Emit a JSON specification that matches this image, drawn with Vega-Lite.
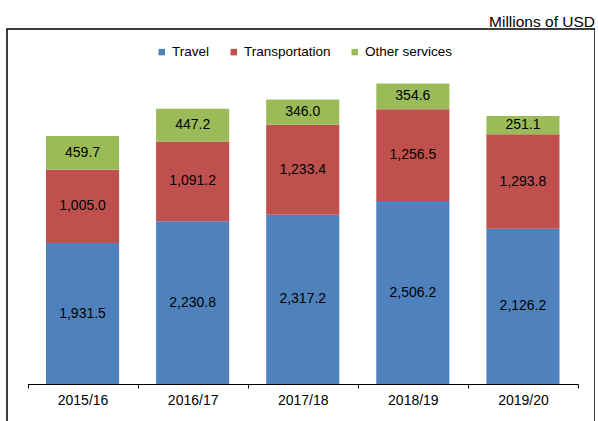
{
  "$schema": "https://vega.github.io/schema/vega-lite/v6.json",
  "width": 588,
  "height": 400,
  "autosize": {"type": "none"},
  "padding": {"left": 7, "top": 29, "right": 0, "bottom": 0},
  "background": "white",
  "config": {
    "view": {"stroke": "#000000", "strokeWidth": 1.5},
    "font": "Liberation Sans"
  },
  "title": {
    "text": "Millions of USD",
    "anchor": "end",
    "orient": "top",
    "frame": "group",
    "fontSize": 15.5,
    "fontWeight": "normal",
    "font": "Liberation Sans",
    "color": "#000000",
    "baseline": "bottom",
    "offset": 3,
    "dy": 19
  },
  "data": {
    "values": [
      {"year": "2015/16", "series": "Travel", "value": 1931.5},
      {"year": "2015/16", "series": "Transportation", "value": 1005.0},
      {"year": "2015/16", "series": "Other services", "value": 459.7},
      {"year": "2016/17", "series": "Travel", "value": 2230.8},
      {"year": "2016/17", "series": "Transportation", "value": 1091.2},
      {"year": "2016/17", "series": "Other services", "value": 447.2},
      {"year": "2017/18", "series": "Travel", "value": 2317.2},
      {"year": "2017/18", "series": "Transportation", "value": 1233.4},
      {"year": "2017/18", "series": "Other services", "value": 346.0},
      {"year": "2018/19", "series": "Travel", "value": 2506.2},
      {"year": "2018/19", "series": "Transportation", "value": 1256.5},
      {"year": "2018/19", "series": "Other services", "value": 354.6},
      {"year": "2019/20", "series": "Travel", "value": 2126.2},
      {"year": "2019/20", "series": "Transportation", "value": 1293.8},
      {"year": "2019/20", "series": "Other services", "value": 251.1}
    ]
  },
  "encoding": {
    "x": {
      "field": "year",
      "type": "nominal",
      "scale": {"range": [20.5, 571], "paddingInner": 0, "paddingOuter": 0},
      "axis": {
        "title": null,
        "orient": "bottom",
        "offset": -45,
        "labelAngle": 0,
        "labelFontSize": 14,
        "labelColor": "#000000",
        "labelFont": "Liberation Sans",
        "labelPadding": 5,
        "domainColor": "#000000",
        "domainWidth": 1,
        "tickColor": "#000000",
        "tickSize": 4,
        "tickBand": "extent",
        "grid": false
      }
    },
    "y": {
      "field": "value",
      "type": "quantitative",
      "stack": "zero",
      "scale": {"domain": [0, 4863], "range": [355, 0], "nice": false, "zero": true},
      "axis": null
    },
    "order": {"field": "series", "sort": "descending"}
  },
  "layer": [
    {
      "mark": {"type": "bar", "width": {"band": 0.664}},
      "encoding": {
        "color": {
          "field": "series",
          "type": "nominal",
          "scale": {
            "domain": ["Travel", "Transportation", "Other services"],
            "range": ["#4F81BD", "#C0504D", "#9BBB59"]
          },
          "legend": {
            "title": null,
            "orient": "none",
            "direction": "horizontal",
            "legendX": 148,
            "legendY": 16,
            "padding": 0,
            "symbolType": "square",
            "symbolSize": 42,
            "symbolStrokeWidth": 0,
            "labelFontSize": 13.5,
            "labelFont": "Liberation Sans",
            "labelColor": "#000000",
            "labelOffset": 3.5,
            "columnPadding": 17
          }
        }
      }
    },
    {
      "mark": {"type": "text", "fontSize": 14, "color": "#000000", "baseline": "middle", "align": "center", "font": "Liberation Sans"},
      "encoding": {
        "y": {
          "field": "value",
          "type": "quantitative",
          "stack": "zero",
          "bandPosition": 0.5
        },
        "detail": {"field": "series"},
        "text": {"field": "value", "type": "quantitative", "format": ",.1f"}
      }
    }
  ]
}
